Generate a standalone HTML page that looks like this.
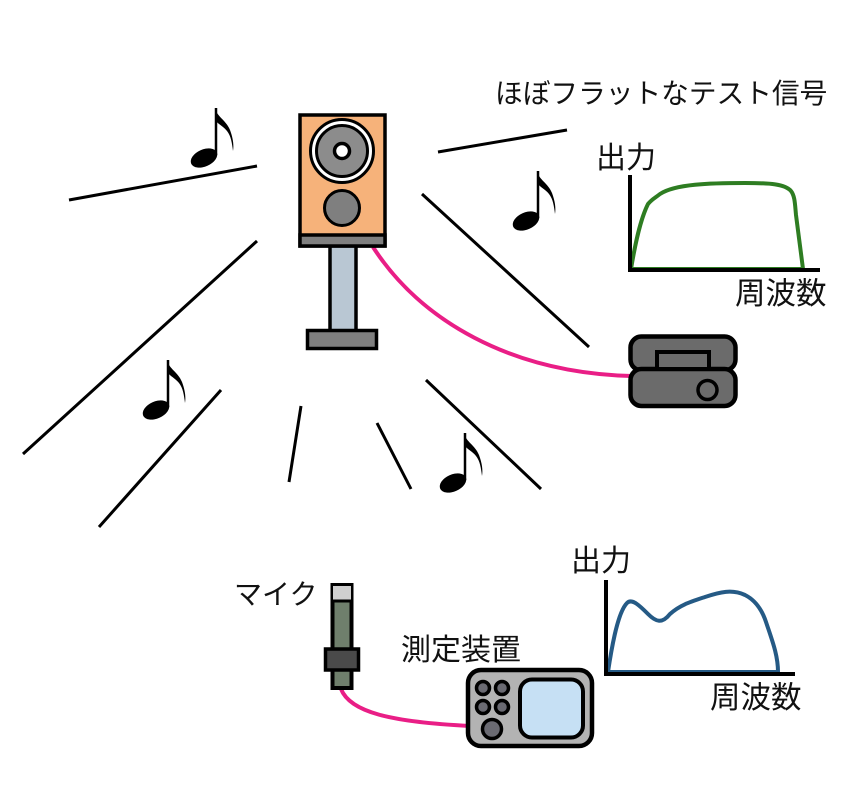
<!DOCTYPE html>
<html><head><meta charset="utf-8"><style>
html,body{margin:0;padding:0;background:#fff}
svg{display:block}
text{font-family:"Liberation Sans","Noto Sans CJK JP",sans-serif;fill:#111;font-weight:400}
</style></head><body>
<svg width="850" height="794" viewBox="0 0 850 794" xmlns="http://www.w3.org/2000/svg">
<defs>
<g id="n">
<ellipse cx="204" cy="158" rx="14" ry="8.5" transform="rotate(-24 204 158)" fill="#000"/>
<path d="M216 155V108" stroke="#000" stroke-width="2.5" fill="none"/>
<path d="M215 108C217 117 226 120 230 130C233 138 234 145 233 151C232 143 231 136 227 131C223 126 219 125 215 120Z" fill="#000"/>
</g>
</defs>
<g stroke="#000" stroke-width="3" fill="none">
<path d="M69 200L257 166M23 454L257 241M99 527L221 390M301 406L289 482M377 423L411 489M426 380L541 489M438 152L567 130M422 194L589 347"/>
</g>
<use href="#n"/><use href="#n" x="322" y="63"/><use href="#n" x="-48" y="252"/><use href="#n" x="249" y="325"/>

<!-- pink -->
<path d="M373 247C420 320 510 373 632 376" stroke="#e91e86" stroke-width="4" fill="none"/>
<path d="M341 689C350 712 390 722 470 726" stroke="#e91e86" stroke-width="4" fill="none"/>

<!-- speaker -->
<rect x="330" y="245" width="26" height="88" fill="#b9c7d3" stroke="#000" stroke-width="3.500"/>
<rect x="307.500" y="330.500" width="69" height="18" fill="#7f7f7f" stroke="#000" stroke-width="3.500"/>
<rect x="300" y="115" width="85" height="131" fill="#f6b27a" stroke="#000" stroke-width="3.500"/>
<rect x="300" y="235" width="85" height="11" fill="#7f7f7f" stroke="#000" stroke-width="3.500"/>
<circle cx="342" cy="151" r="31.500" fill="#fff" stroke="#000" stroke-width="3"/>
<circle cx="342" cy="151" r="25.500" fill="#8c8c8c" stroke="#000" stroke-width="3"/>
<circle cx="342" cy="151" r="7.500" fill="#fff" stroke="#000" stroke-width="3.500"/>
<circle cx="342" cy="208" r="17.500" fill="#7f7f7f" stroke="#000" stroke-width="3"/>

<!-- amp -->
<rect x="630.500" y="336.500" width="105" height="34" rx="11" fill="#6b6b6b" stroke="#000" stroke-width="4.500"/>
<rect x="630.500" y="369" width="105" height="37" rx="11" fill="#6b6b6b" stroke="#000" stroke-width="4.500"/>
<rect x="657" y="352" width="52" height="17" fill="#6b6b6b" stroke="#000" stroke-width="4"/>
<circle cx="707.500" cy="390" r="9.500" fill="#6b6b6b" stroke="#000" stroke-width="3.500"/>

<!-- mic -->
<rect x="332.500" y="585" width="19" height="103" fill="#6f7f6c" stroke="#000" stroke-width="4"/>
<rect x="333" y="586" width="18" height="14" fill="#cfcfcf"/>
<path d="M332 601H352" stroke="#000" stroke-width="3"/>
<rect x="325.500" y="649" width="33" height="21" fill="#4a4a4a" stroke="#000" stroke-width="3.500"/>

<!-- device -->
<rect x="468" y="670" width="124" height="76" rx="13" fill="#b3b3b3" stroke="#000" stroke-width="4.500"/>
<rect x="520" y="679.500" width="63" height="58" rx="12" fill="#c6e0f4" stroke="#000" stroke-width="4"/>
<g fill="#6a6a72" stroke="#000" stroke-width="3.500">
<circle cx="483" cy="688" r="6.500"/><circle cx="502" cy="688" r="6.500"/>
<circle cx="483" cy="707" r="6.500"/><circle cx="502" cy="707" r="6.500"/>
<circle cx="492" cy="729" r="9.500"/>
</g>

<!-- chart 1 -->
<path d="M631 269C635 245 640 220 648 204C652 199 655 198 660 194C675 184 710 183 745 183C770 183 785 184 791 191C795 196 795 205 796 215L803 269" stroke="#2e7d22" stroke-width="4" fill="none"/>
<path d="M631 268H803" stroke="#2e7d22" stroke-width="2" fill="none"/>
<path d="M630 175V270H820" stroke="#000" stroke-width="4" fill="none"/>

<!-- chart 2 -->
<path d="M608 672C612 645 618 612 627 603C632 598 640 606 648 614C656 622 662 624 670 614C680 605 690 602 705 597C720 592 732 589 745 595C755 600 762 610 766 622C772 640 778 655 778 672Z" stroke="#255a85" stroke-width="4" fill="none"/>
<path d="M606 580V674H795" stroke="#000" stroke-width="4" fill="none"/>

<text x="495" y="103" font-size="27.700">ほぼフラットなテスト信号</text>
<text x="596" y="168" font-size="30">出力</text>
<text x="735" y="304" font-size="30.500">周波数</text>
<text x="571" y="571" font-size="30">出力</text>
<text x="710" y="708" font-size="30.500">周波数</text>
<text x="234" y="604" font-size="28">マイク</text>
<text x="401" y="660" font-size="30">測定装置</text>
</svg>
</body></html>
